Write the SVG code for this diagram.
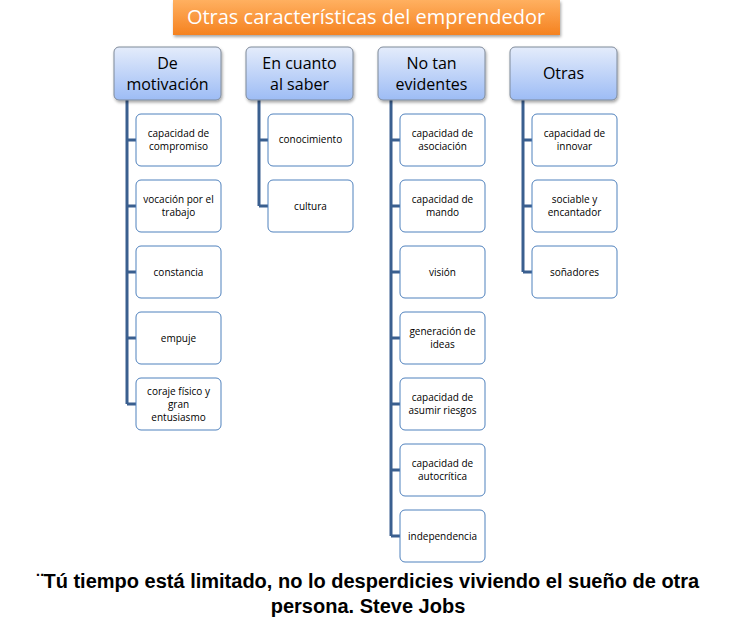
<svg xmlns="http://www.w3.org/2000/svg" width="730" height="624" viewBox="0 0 730 624">
<defs>
<linearGradient id="hg" x1="0" y1="0" x2="0" y2="1"><stop offset="0" stop-color="#e4ecfb"/><stop offset="1" stop-color="#9dbcf5"/></linearGradient>
<linearGradient id="tg" x1="0" y1="0" x2="0" y2="1"><stop offset="0" stop-color="#ffb060"/><stop offset="1" stop-color="#f58220"/></linearGradient>
<filter id="sh" x="-10%" y="-10%" width="130%" height="140%"><feDropShadow dx="1" dy="2" stdDeviation="1.5" flood-color="#000" flood-opacity="0.35"/></filter>
</defs>
<style>
.h{fill:url(#hg);stroke:#7f8a9a;stroke-width:1;filter:url(#sh)}
.c{fill:#fff;stroke:#4f81bd;stroke-width:1}
.ht{font-family:"Open Sans","Liberation Sans",sans-serif;font-size:16px;fill:#000;text-anchor:middle}
.ct{font-family:"Open Sans","Liberation Sans",sans-serif;font-size:10px;fill:#000;text-anchor:middle}
.ln{stroke:#3a5f8f;stroke-width:3;fill:none}
.q{font-family:"Liberation Sans",Arial,sans-serif;font-size:20px;font-weight:bold;text-anchor:middle;fill:#000}
</style>
<rect width="730" height="624" fill="#fff"/>
<g id="title"><rect x="173" y="0" width="387" height="35" fill="url(#tg)" filter="url(#sh)"/><text x="366" y="24" font-family="Open Sans,Liberation Sans,sans-serif" font-size="20" fill="#fff" text-anchor="middle">Otras características del emprendedor</text></g>
<g id="connectors">
<path class="ln" d="M127 100V404M127 140H136M127 206H136M127 272H136M127 338H136M127 404H136"/>
<path class="ln" d="M259 100V206M259 140H268M259 206H268"/>
<path class="ln" d="M391 100V536M391 140H400M391 206H400M391 272H400M391 338H400M391 404H400M391 470H400M391 536H400"/>
<path class="ln" d="M523 100V272M523 140H532M523 206H532M523 272H532"/>
</g>
<g id="h1"><rect class="h" x="114" y="47" width="107" height="53" rx="5"/><text class="ht" x="167.5" y="69">De</text><text class="ht" x="167.5" y="90">motivación</text></g>
<g id="h2"><rect class="h" x="246" y="47" width="107" height="53" rx="5"/><text class="ht" x="299.5" y="69">En cuanto</text><text class="ht" x="299.5" y="90">al saber</text></g>
<g id="h3"><rect class="h" x="378" y="47" width="107" height="53" rx="5"/><text class="ht" x="431.5" y="69">No tan</text><text class="ht" x="431.5" y="90">evidentes</text></g>
<g id="h4"><rect class="h" x="510" y="47" width="107" height="53" rx="5"/><text class="ht" x="563.5" y="79">Otras</text></g>
<g id="a1"><rect class="c" x="136" y="114" width="85" height="52" rx="5"/><text class="ct" x="178.5" y="137">capacidad de</text><text class="ct" x="178.5" y="150">compromiso</text></g>
<g id="a2"><rect class="c" x="136" y="180" width="85" height="52" rx="5"/><text class="ct" x="178.5" y="203">vocación por el</text><text class="ct" x="178.5" y="216">trabajo</text></g>
<g id="a3"><rect class="c" x="136" y="246" width="85" height="52" rx="5"/><text class="ct" x="178.5" y="276">constancia</text></g>
<g id="a4"><rect class="c" x="136" y="312" width="85" height="52" rx="5"/><text class="ct" x="178.5" y="342">empuje</text></g>
<g id="a5"><rect class="c" x="136" y="378" width="85" height="52" rx="5"/><text class="ct" x="178.5" y="395">coraje físico y</text><text class="ct" x="178.5" y="408">gran</text><text class="ct" x="178.5" y="421">entusiasmo</text></g>
<g id="b1"><rect class="c" x="268" y="114" width="85" height="52" rx="5"/><text class="ct" x="310.5" y="143">conocimiento</text></g>
<g id="b2"><rect class="c" x="268" y="180" width="85" height="52" rx="5"/><text class="ct" x="310.5" y="210">cultura</text></g>
<g id="c1"><rect class="c" x="400" y="114" width="85" height="52" rx="5"/><text class="ct" x="442.5" y="137">capacidad de</text><text class="ct" x="442.5" y="150">asociación</text></g>
<g id="c2"><rect class="c" x="400" y="180" width="85" height="52" rx="5"/><text class="ct" x="442.5" y="203">capacidad de</text><text class="ct" x="442.5" y="216">mando</text></g>
<g id="c3"><rect class="c" x="400" y="246" width="85" height="52" rx="5"/><text class="ct" x="442.5" y="276">visión</text></g>
<g id="c4"><rect class="c" x="400" y="312" width="85" height="52" rx="5"/><text class="ct" x="442.5" y="335">generación de</text><text class="ct" x="442.5" y="348">ideas</text></g>
<g id="c5"><rect class="c" x="400" y="378" width="85" height="52" rx="5"/><text class="ct" x="442.5" y="401">capacidad de</text><text class="ct" x="442.5" y="414">asumir riesgos</text></g>
<g id="c6"><rect class="c" x="400" y="444" width="85" height="52" rx="5"/><text class="ct" x="442.5" y="467">capacidad de</text><text class="ct" x="442.5" y="480">autocrítica</text></g>
<g id="c7"><rect class="c" x="400" y="510" width="85" height="52" rx="5"/><text class="ct" x="442.5" y="540">independencia</text></g>
<g id="d1"><rect class="c" x="532" y="114" width="85" height="52" rx="5"/><text class="ct" x="574.5" y="137">capacidad de</text><text class="ct" x="574.5" y="150">innovar</text></g>
<g id="d2"><rect class="c" x="532" y="180" width="85" height="52" rx="5"/><text class="ct" x="574.5" y="203">sociable y</text><text class="ct" x="574.5" y="216">encantador</text></g>
<g id="d3"><rect class="c" x="532" y="246" width="85" height="52" rx="5"/><text class="ct" x="574.5" y="276">soñadores</text></g>
<g id="quote"><text class="q" x="368" y="588">¨Tú tiempo está limitado, no lo desperdicies viviendo el sueño de otra</text><text class="q" x="368" y="613">persona. Steve Jobs</text></g>
</svg>
